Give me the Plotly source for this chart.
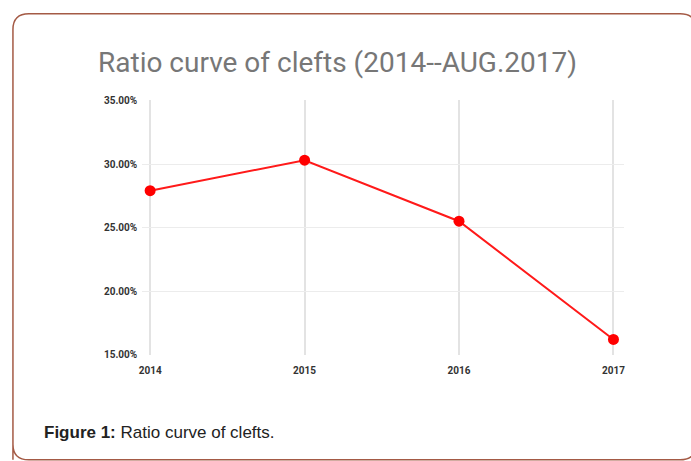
import plotly.graph_objects as go

# Data: share of cleft cases per year
years = [2014, 2015, 2016, 2017]
ratio_pct = [27.9, 30.3, 25.5, 16.2]
y_ticks = [15, 20, 25, 30, 35]
y_tick_labels = ["15.00%", "20.00%", "25.00%", "30.00%", "35.00%"]
title_text = "Ratio curve of clefts (2014--AUG.2017)"
caption_bold = "Figure 1:"
caption_rest = " Ratio curve of clefts."

W, H = 691, 461

def px(x):
    return x / W

def py(y):
    return 1 - y / H

fig = go.Figure()
fig.add_trace(go.Scatter(
    x=years, y=ratio_pct, mode="lines+markers",
    line=dict(color="#ff1a1a", width=2),
    marker=dict(color="#ff0000", size=11),
    showlegend=False, hoverinfo="x+y",
))

# Plot area placement in pixels
left, right, top, bottom = 140, 625, 97, 358
x_per_year = (614 - 148) / 3.0
x0 = 2014 - (148 - left) / x_per_year
x1 = 2017 + (right - 614) / x_per_year

tick_font = dict(family="Roboto", size=10, color="#333333", weight="bold")

fig.update_layout(
    width=W, height=H,
    margin=dict(l=0, r=0, t=0, b=0),
    paper_bgcolor="white", plot_bgcolor="white",
    xaxis=dict(
        domain=[px(left), px(right)], range=[x0, x1],
        tickvals=years, ticktext=[str(y) for y in years],
        showgrid=True, gridcolor="#e3e3e3", gridwidth=1.5,
        zeroline=False, showline=False, ticks="",
        tickfont=tick_font, ticklabelstandoff=8,
    ),
    yaxis=dict(
        domain=[py(bottom), py(top)], range=[15, 35],
        tickvals=y_ticks, ticktext=y_tick_labels,
        showgrid=True, gridcolor="#ececec", gridwidth=1,
        zeroline=False, showline=False, ticks="",
        tickfont=tick_font, ticklabelstandoff=4,
    ),
)

# Rounded frame around the figure (right and bottom edges run off the page)
fl, ft, fr, fb, rad = 10, 8, 697, 466, 16
path = (
    f"M {px(fl)},{py(fb)} "
    f"L {px(fl)},{py(ft + rad)} "
    f"Q {px(fl)},{py(ft)} {px(fl + rad)},{py(ft)} "
    f"L {px(fr - rad)},{py(ft)} "
    f"Q {px(fr)},{py(ft)} {px(fr)},{py(ft + rad)} "
    f"L {px(fr)},{py(fb - rad)} "
    f"Q {px(fr)},{py(fb)} {px(fr - rad)},{py(fb)} "
    f"L {px(fl + rad)},{py(fb)} "
    f"Q {px(fl)},{py(fb)} {px(fl)},{py(fb - rad)} Z"
)
fig.add_shape(type="path", path=path, xref="paper", yref="paper",
              line=dict(color="#a45a45", width=1.5), layer="below")

fig.add_annotation(
    text=title_text, xref="paper", yref="paper",
    x=px(94), y=py(58), xanchor="left", yanchor="middle",
    showarrow=False,
    font=dict(family="Roboto", size=28, color="#777777"),
)

fig.add_annotation(
    text=f"<b>{caption_bold}</b>{caption_rest}", xref="paper", yref="paper",
    x=px(39), y=py(438), xanchor="left", yanchor="middle",
    showarrow=False,
    font=dict(family="Liberation Sans", size=17, color="#222222"),
)

fig.write_html("out.html")
